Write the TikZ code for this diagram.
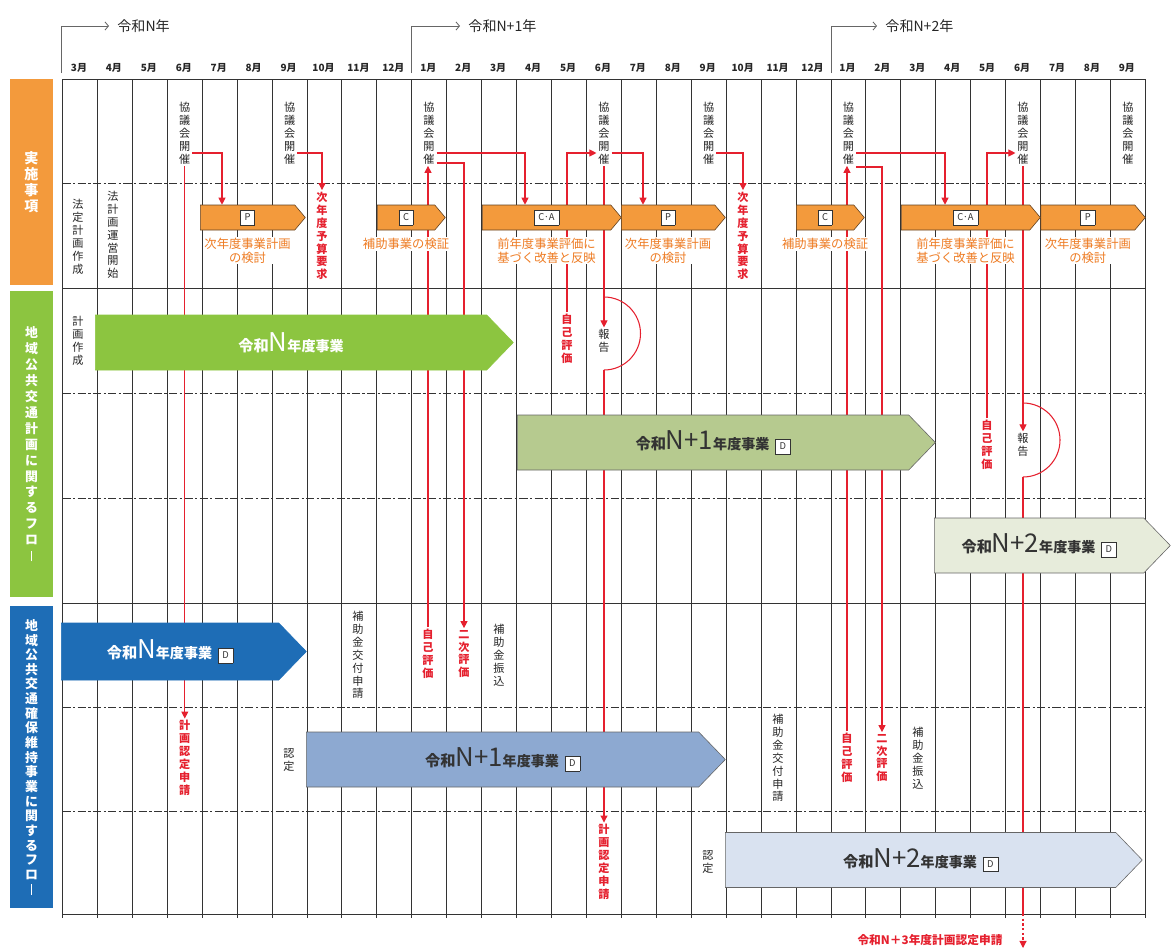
\documentclass[tikz,border=0pt]{standalone}
\usepackage{fontspec}
\setmainfont{Noto Sans CJK JP}
\usepackage{tikz}
\usetikzlibrary{shapes.symbols, arrows.meta, positioning, calc, backgrounds}

\definecolor{kOrange}{HTML}{F39A3C}
\definecolor{kOrangeText}{HTML}{EE7B22}
\definecolor{kRed}{HTML}{E5202E}
\definecolor{gGreen}{HTML}{8CC540}
\definecolor{gOlive}{HTML}{B6CA8F}
\definecolor{gPale}{HTML}{E7ECDB}
\definecolor{bBlue}{HTML}{1E6DB6}
\definecolor{bMid}{HTML}{8DA9D1}
\definecolor{bPale}{HTML}{D9E2F0}

\newcommand\pxu{0.03cm}
% vertical (tategaki) text
\ExplSyntaxOn
\NewDocumentCommand\tate{O{11pt}m}{\vbox{\baselineskip=#1\relax\lineskiplimit=-20pt\lineskip=0pt
  \tl_map_inline:nn{#2}{\hbox_to_wd:nn{1em}{\hss##1\hss}}}}
\ExplSyntaxOff
\newcommand\vbar{\raisebox{-0.05em}{\rule{1.3pt}{0.8em}}}
\newcommand\tagbox[1]{{\setlength\fboxsep{2pt}\fcolorbox{black!80}{white}{\color{black!80}\fontsize{8}{8}\selectfont\mdseries\rule[-1.5pt]{0pt}{8pt}\,#1\,}}}
\newcommand\jigyo[2]{{\bfseries\fontsize{13}{13}\selectfont 令和}{\fontsize{22}{22}\selectfont #1}{\bfseries\fontsize{12}{12}\selectfont 年度事業}#2}

\begin{document}
\begin{tikzpicture}[x=0.03cm, y=-0.03cm,
    gridline/.style={draw=black!80, line width=0.8pt},
    dashline/.style={draw=black!80, line width=0.8pt, dash pattern=on 7pt off 2pt on 2pt off 2pt},
    mon/.style={font=\fontsize{8.5}{9}\selectfont\bfseries, text=black!85, inner sep=1pt},
    yearlbl/.style={font=\fontsize{12}{12}\selectfont, text=black!85, anchor=west, inner sep=0pt, inner xsep=7pt},
    bracket/.style={draw=black!60, line width=0.7pt, -{Straight Barb[length=3pt,width=7pt]}},
    side/.style={rectangle, minimum width=43*\pxu, text=white, font=\fontsize{11}{11}\selectfont\bfseries, inner sep=0pt},
    band/.style={signal, signal to=east, signal from=nowhere, anchor=west, inner sep=0pt, line width=0.5pt},
    oband/.style={band, draw=black!50!brown, fill=kOrange, minimum height=25*\pxu, signal pointer angle=100},
    bigband/.style={band, draw=black!60, minimum height=55*\pxu, signal pointer angle=92, text=black!80},
    olabel/.style={text=kOrangeText, font=\fontsize{10.5}{11.5}\selectfont, align=center, fill=white, inner sep=1pt},
    vt/.style={font=\fontsize{9.5}{11}\selectfont, text=black!85, fill=white, inner sep=1.5pt},
    vtr/.style={vt, text=kRed, font=\fontsize{9.5}{11}\selectfont\bfseries},
    rline/.style={draw=kRed, line width=0.9pt},
    rarrow/.style={rline, -{Triangle[length=6pt,width=6pt]}}
]
\useasboundingbox (0,0) rectangle (1171,952);

% years and months
\node[yearlbl] (yr0) at (109,26) {令和N年};
\node[yearlbl] (yr1) at (460,26) {令和N+1年};
\node[yearlbl] (yr2) at (877,26) {令和N+2年};
\draw[bracket] (61,73) |- (yr0.west);
\draw[bracket] (411.8,73) |- (yr1.west);
\draw[bracket] (831,73) |- (yr2.west);
\foreach \m [count=\k from 0] in {3,4,5,6,7,8,9,10,11,12,1,2,3,4,5,6,7,8,9,10,11,12,1,2,3,4,5,6,7,8,9}
  \node[mon] (m\k) at ({79+34.93*\k},68) {\m 月};

% side labels
\node[side, fill=kOrange, minimum height=206*\pxu, font=\fontsize{12}{12}\selectfont\bfseries] (sideA) at (31.5,182) {\tate[13.6pt]{実施事項}};
\node[side, fill=gGreen, minimum height=306*\pxu] (sideB) at (31.5,444) {\tate[13.6pt]{地域公共交通計画に関するフロ{\vbar}}};
\node[side, fill=bBlue, minimum height=302*\pxu] (sideC) at (31.5,757) {\tate[12.5pt]{地域公共交通確保維持事業に関するフロ{\vbar}}};

% council meetings
\node[vt] (kyo1) at (184.8,133) {\tate{協議会開催}};
\node[vt] (kyo2) at (289.6,133) {\tate{協議会開催}};
\node[vt] (kyo3) at (429,133) {\tate{協議会開催}};
\node[vt] (kyo4) at (604,133) {\tate{協議会開催}};
\node[vt] (kyo5) at (708.7,133) {\tate{協議会開催}};
\node[vt] (kyo6) at (848.4,133) {\tate{協議会開催}};
\node[vt] (kyo7) at (1023,133) {\tate{協議会開催}};
\node[vt] (kyo8) at (1128,133) {\tate{協議会開催}};

% PDCA steps
\node[vt] (hotei) at (78,237) {\tate{法定計画作成}};
\node[vt] (unei) at (113,235) {\tate{法計画運営開始}};
\node[vtr] (yosan1) at (322,236) {\tate{次年度予算要求}};
\node[vtr] (yosan2) at (743,236) {\tate{次年度予算要求}};
\node[oband, minimum width=105*\pxu] (p1) at (200,217.5) {\tagbox{P}};
\node[oband, minimum width=68*\pxu] (c1) at (377,217.5) {\tagbox{C}};
\node[oband, minimum width=139*\pxu] (ca1) at (482,217.5) {\tagbox{C·A}};
\node[oband, minimum width=104*\pxu] (p2) at (621,217.5) {\tagbox{P}};
\node[oband, minimum width=68*\pxu] (c2) at (796,217.5) {\tagbox{C}};
\node[oband, minimum width=139*\pxu] (ca2) at (901,217.5) {\tagbox{C·A}};
\node[oband, minimum width=104.5*\pxu] (p3) at (1040.5,217.5) {\tagbox{P}};
\node[olabel, below=0.2cm of p1] (p1t) {次年度事業計画\\の検討};
\node[olabel, below=0.2cm of c1] (c1t) {補助事業の検証};
\node[olabel, below=0.2cm of ca1] (ca1t) {前年度事業評価に\\基づく改善と反映};
\node[olabel, below=0.2cm of p2] (p2t) {次年度事業計画\\の検討};
\node[olabel, below=0.2cm of c2] (c2t) {補助事業の検証};
\node[olabel, below=0.2cm of ca2] (ca2t) {前年度事業評価に\\基づく改善と反映};
\node[olabel, below=0.2cm of p3] (p3t) {次年度事業計画\\の検討};

% plan flow
\node[vt] (sakusei) at (78,341) {\tate{計画作成}};
\node[bigband, fill=gGreen, draw=gGreen, minimum width=418*\pxu, text=white] (gN) at (95,342.5) {\jigyo{N}{}};
\node[bigband, fill=gOlive, minimum width=418*\pxu] (gN1) at (517,442.5) {\jigyo{N+1}{\hspace{5pt}\tagbox{D}}};
\node[bigband, fill=gPale, minimum width=236*\pxu] (gN2) at (934,545.5) {\jigyo{N+2}{\hspace{5pt}\tagbox{D}}};
\node[vtr] (jiko1) at (567,339) {\tate{自己評価}};
\node[vt] (hokoku1) at (604,341) {\tate{報告}};
\node[vtr] (jiko2) at (987,445) {\tate{自己評価}};
\node[vt] (hokoku2) at (1023,445) {\tate{報告}};

% subsidy flow
\node[bigband, fill=bBlue, draw=bBlue, minimum width=245*\pxu, minimum height=57*\pxu, text=white] (bN) at (61,651.5) {\jigyo{N}{\hspace{5pt}\tagbox{D}}};
\node[bigband, fill=bMid, minimum width=419*\pxu] (bN1) at (306,759.5) {\jigyo{N+1}{\hspace{5pt}\tagbox{D}}};
\node[bigband, fill=bPale, minimum width=417*\pxu] (bN2) at (725,860) {\jigyo{N+2}{\hspace{5pt}\tagbox{D}}};
\node[vt] (kofu1) at (358,655) {\tate{補助金交付申請}};
\node[vtr] (jikoB1) at (428,654) {\tate{自己評価}};
\node[vtr] (niji1) at (464,654) {\tate{二次評価}};
\node[vt] (furi1) at (499,655) {\tate{補助金振込}};
\node[vt] (nintei1) at (289,760) {\tate{認定}};
\node[vtr] (shinsei1) at (184.8,758) {\tate{計画認定申請}};
\node[vt] (kofu2) at (778,758) {\tate{補助金交付申請}};
\node[vtr] (jikoB2) at (847,758) {\tate{自己評価}};
\node[vtr] (niji2) at (882,758) {\tate{二次評価}};
\node[vt] (furi2) at (918,758) {\tate{補助金振込}};
\node[vt] (nintei2) at (708,862) {\tate{認定}};
\node[vtr] (shinsei2) at (604,862) {\tate{計画認定申請}};
\node[font=\fontsize{10}{10}\selectfont\bfseries, text=kRed, inner sep=1pt] (n3) at (930,940) {令和N＋3年度計画認定申請};
\coordinate (n3tip) at (1023,948);

\begin{scope}[on background layer]
\foreach \k in {0,...,31}
  \draw[gridline] ({62.5+34.93*\k},79) -- ({62.5+34.93*\k},918);
\foreach \y in {79,288,603,914}
  \draw[gridline] (62.5,\y) -- (1145.3,\y);
\foreach \y in {183,393,498,707,811}
  \draw[dashline] (62.5,\y) -- (1145.3,\y);

\draw[rarrow] (kyo1.east |- 0,153) -| (p1.north -| 222,0);
\draw[rarrow] (kyo1.south) -- (shinsei1.north);
\draw[rarrow] (kyo2.east |- 0,153) -| (yosan1.north);
\draw[rarrow] (kyo3.east |- 0,153) -| (ca1.north -| 525,0);
\draw[rarrow] (kyo3.east |- 0,163) -| (niji1.north);
\draw[rarrow] (jikoB1.north) -- (jikoB1.north |- kyo3.south);
\draw[rarrow] (jiko1.north) |- (kyo4.west |- 0,153);
\draw[rarrow] (kyo4.south) -- (hokoku1.north);
\draw[rline] (hokoku1.center |- 0,297) arc[start angle=-90, end angle=90, radius=36.5];
\draw[rarrow] (hokoku1.center |- 0,370) -- (shinsei2.north);
\draw[rarrow] (kyo4.east |- 0,153) -| (p2.north -| 643,0);
\draw[rarrow] (kyo5.east |- 0,153) -| (yosan2.north);
\draw[rarrow] (jikoB2.north) -- (jikoB2.north |- kyo6.south);
\draw[rarrow] (kyo6.east |- 0,153) -| (ca2.north -| 945,0);
\draw[rarrow] (kyo6.east |- 0,167) -| (niji2.north);
\draw[rarrow] (jiko2.north) |- (kyo7.west |- 0,153);
\draw[rarrow] (kyo7.south) -- (hokoku2.north);
\draw[rline] (hokoku2.center |- 0,403) arc[start angle=-90, end angle=90, radius=37];
\draw[rline] (hokoku2.center |- 0,477) -- (hokoku2.center |- 0,914);
\draw[rarrow, dash pattern=on 2pt off 2pt] (hokoku2.center |- 0,914) -- (n3tip);
\end{scope}
\end{tikzpicture}
\end{document}
